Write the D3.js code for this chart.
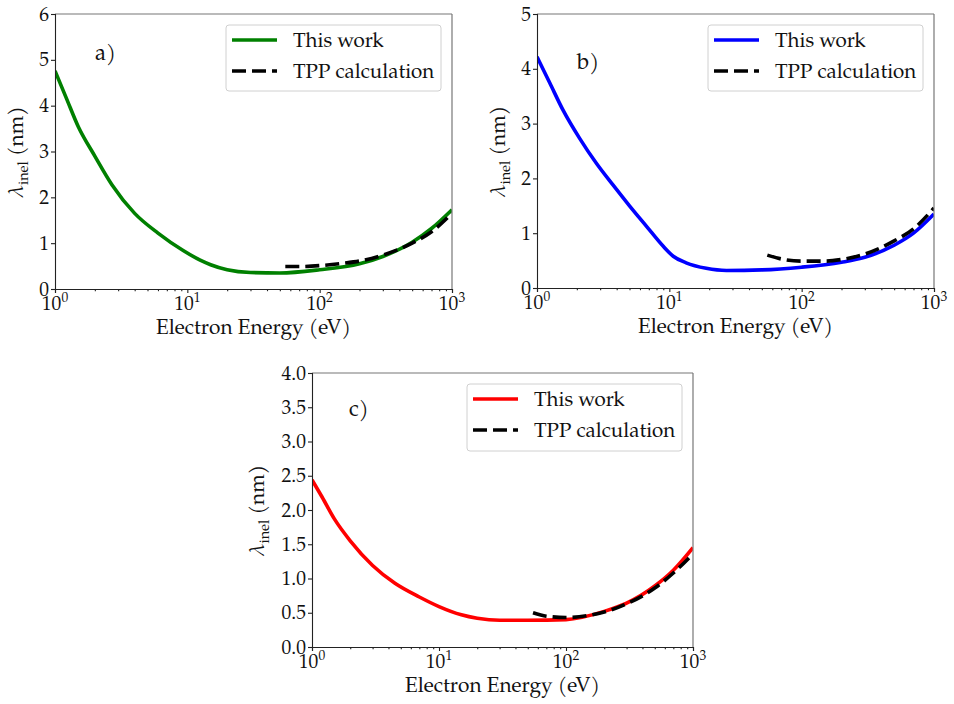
<!DOCTYPE html>
<html>
<head>
<meta charset="utf-8">
<script src="https://cdn.jsdelivr.net/npm/d3@7"></script>
<style>
  body { margin: 0; background: #fff; }
  text { font-family: "TeX Gyre Pagella", "Palatino Linotype", Palatino, "Liberation Serif", "DejaVu Serif", serif; fill: #111; }
</style>
</head>
<body>
<svg id="fig" width="954" height="704"></svg>
<script>
// Inelastic mean free path vs. electron energy, three materials.

// Panel a)
const energyA   = [1, 1.22, 1.5, 2, 2.7, 4, 6, 9.3, 12.5, 15, 20, 30, 50, 100, 200, 300, 500, 700, 1000];
const thisWorkA = [4.76, 4.16, 3.54, 2.90, 2.27, 1.65, 1.22, 0.84, 0.63, 0.53, 0.42, 0.36, 0.35, 0.42, 0.55, 0.71, 1.02, 1.32, 1.73];
const tppEnergyA = [55, 70, 100, 150, 200, 300, 500, 700, 1000];
const tppA       = [0.49, 0.49, 0.51, 0.56, 0.61, 0.74, 1.00, 1.25, 1.65];

// Panel b)
const energyB   = [1, 1.25, 1.57, 2.1, 2.8, 3.75, 5, 6.7, 9, 10.7, 13.4, 19, 27, 50, 100, 200, 300, 500, 700, 1000];
const thisWorkB = [4.22, 3.74, 3.25, 2.73, 2.28, 1.88, 1.50, 1.13, 0.76, 0.58, 0.46, 0.36, 0.32, 0.33, 0.38, 0.47, 0.56, 0.78, 1.00, 1.35];
const tppEnergyB = [55, 70, 100, 150, 200, 300, 500, 700, 1000];
const tppB       = [0.60, 0.53, 0.49, 0.49, 0.52, 0.62, 0.86, 1.08, 1.46];

// Panel c)
const energyC   = [1, 1.2, 1.5, 2, 3, 4.5, 7, 10, 15, 20, 30, 50, 100, 200, 300, 500, 700, 1000];
const thisWorkC = [2.44, 2.19, 1.87, 1.55, 1.19, 0.93, 0.73, 0.59, 0.47, 0.42, 0.39, 0.39, 0.40, 0.52, 0.64, 0.89, 1.12, 1.45];
const tppEnergyC = [55, 70, 100, 150, 200, 300, 500, 700, 1000];
const tppC       = [0.50, 0.45, 0.43, 0.46, 0.51, 0.63, 0.86, 1.08, 1.36];

// Axis ticks and text
const xMajorTicks = [1, 10, 100, 1000];
const xTickExponents = ["0", "1", "2", "3"];
const yTicksA = [0, 1, 2, 3, 4, 5, 6];
const yTicksB = [0, 1, 2, 3, 4, 5];
const yTicksC = [0, 0.5, 1.0, 1.5, 2.0, 2.5, 3.0, 3.5, 4.0];
const panelLetters = ["a)", "b)", "c)"];
const legendLabels = ["This work", "TPP calculation"];
const xAxisTitle = "Electron Energy (eV)";

const DASH = "14,6";
const LW = 3.6;

const panels = [
  { letter: panelLetters[0], energy: energyA, values: thisWorkA, tppE: tppEnergyA, tpp: tppA,
    color: "#008000", yTicks: yTicksA, fmt: d3.format("d"),
    box: { x0: 55, x1: 452, y0: 14, y1: 289 }, ylabX: 23, letterPos: [95, 60],
    legend: { x: 226, y: 25, w: 215, h: 66 } },
  { letter: panelLetters[1], energy: energyB, values: thisWorkB, tppE: tppEnergyB, tpp: tppB,
    color: "#0000ff", yTicks: yTicksB, fmt: d3.format("d"),
    box: { x0: 537, x1: 934, y0: 14, y1: 288 }, ylabX: 505, letterPos: [577, 69],
    legend: { x: 708, y: 25, w: 215, h: 66 } },
  { letter: panelLetters[2], energy: energyC, values: thisWorkC, tppE: tppEnergyC, tpp: tppC,
    color: "#ff0000", yTicks: yTicksC, fmt: d3.format(".1f"),
    box: { x0: 312, x1: 693, y0: 373, y1: 647 }, ylabX: 264, letterPos: [349, 416],
    legend: { x: 467, y: 384, w: 215, h: 67 } }
];

const svg = d3.select("#fig");
const minorTicks = [];
for (let d = 1; d < 1000; d *= 10) for (let m = 2; m <= 9; m++) minorTicks.push(d * m);

panels.forEach(p => {
  const b = p.box;
  const x = d3.scaleLog().domain([1, 1000]).range([b.x0, b.x1]);
  const yMax = p.yTicks[p.yTicks.length - 1];
  const y = d3.scaleLinear().domain([0, yMax]).range([b.y1, b.y0]);
  const g = svg.append("g");

  // clip to plot area
  const clipId = "clip-" + p.letter[0];
  g.append("clipPath").attr("id", clipId).append("rect")
    .attr("x", b.x0).attr("y", b.y0).attr("width", b.x1 - b.x0).attr("height", b.y1 - b.y0);

  const line = d3.line().x(d => x(d[0])).y(d => y(d[1])).curve(d3.curveMonotoneX);
  const plot = g.append("g").attr("clip-path", `url(#${clipId})`);
  plot.append("path")
    .datum(p.energy.map((e, i) => [e, p.values[i]]))
    .attr("d", line).attr("fill", "none").attr("stroke", p.color)
    .attr("stroke-width", LW).attr("stroke-linejoin", "round");
  plot.append("path")
    .datum(p.tppE.map((e, i) => [e, p.tpp[i]]))
    .attr("d", line).attr("fill", "none").attr("stroke", "#000")
    .attr("stroke-width", LW).attr("stroke-dasharray", DASH);

  // frame: top/right lighter
  g.append("line").attr("x1", b.x0).attr("x2", b.x1).attr("y1", b.y0).attr("y2", b.y0)
    .attr("stroke", "#777").attr("stroke-width", 1.2);
  g.append("line").attr("x1", b.x1).attr("x2", b.x1).attr("y1", b.y0).attr("y2", b.y1)
    .attr("stroke", "#777").attr("stroke-width", 1.2);

  // x axis
  g.append("g").attr("transform", `translate(0,${b.y1})`)
    .call(d3.axisBottom(x).tickValues(xMajorTicks).tickSize(4).tickFormat(""));
  g.append("g").attr("transform", `translate(0,${b.y1})`)
    .call(d3.axisBottom(x).tickValues(minorTicks).tickSize(2.2).tickFormat(""))
    .call(a => a.select(".domain").remove());
  xMajorTicks.forEach((v, i) => {
    const t = g.append("text").attr("x", x(v)).attr("y", b.y1 + 20.5)
      .attr("text-anchor", "middle").attr("font-size", 19.5);
    t.append("tspan").text("10");
    t.append("tspan").attr("dy", -7.5).attr("font-size", 13.5).text(xTickExponents[i]);
  });
  g.append("text").attr("x", (b.x0 + b.x1) / 2).attr("y", b.y1 + 45)
    .attr("text-anchor", "middle").attr("font-size", 20.8).text(xAxisTitle);

  // y axis
  g.append("g").attr("transform", `translate(${b.x0},0)`)
    .call(d3.axisLeft(y).tickValues(p.yTicks).tickSize(4).tickFormat(""));
  p.yTicks.forEach(v => {
    g.append("text").attr("x", b.x0 - 6).attr("y", y(v) + 6.5)
      .attr("text-anchor", "end").attr("font-size", 19.5).text(p.fmt(v));
  });
  g.selectAll(".domain, .tick line").attr("stroke", "#222").attr("stroke-width", 1.1);

  const yl = g.append("text")
    .attr("transform", `translate(${p.ylabX},${(b.y0 + b.y1) / 2}) rotate(-90)`)
    .attr("text-anchor", "middle").attr("font-size", 21);
  yl.append("tspan").attr("font-style", "italic").text("λ");
  yl.append("tspan").attr("dy", 4.5).attr("font-size", 14.5).text("inel");
  yl.append("tspan").attr("dy", -4.5).text(" (nm)");

  // panel letter
  g.append("text").attr("x", p.letterPos[0]).attr("y", p.letterPos[1])
    .attr("font-size", 22).text(p.letter);

  // legend
  const L = p.legend;
  g.append("rect").attr("x", L.x).attr("y", L.y).attr("width", L.w).attr("height", L.h)
    .attr("rx", 3).attr("fill", "#fff").attr("fill-opacity", 0.8)
    .attr("stroke", "#d0d0d0").attr("stroke-width", 1);
  [[p.color, null], ["#000", DASH]].forEach((s, i) => {
    const ry = L.y + 15 + i * 31;
    const ln = g.append("line").attr("x1", L.x + 6).attr("x2", L.x + 51)
      .attr("y1", ry).attr("y2", ry).attr("stroke", s[0]).attr("stroke-width", LW);
    if (s[1]) ln.attr("stroke-dasharray", s[1]);
    g.append("text").attr("x", L.x + 67).attr("y", ry + 7)
      .attr("font-size", 20.5).text(legendLabels[i]);
  });
});
</script>
</body>
</html>
